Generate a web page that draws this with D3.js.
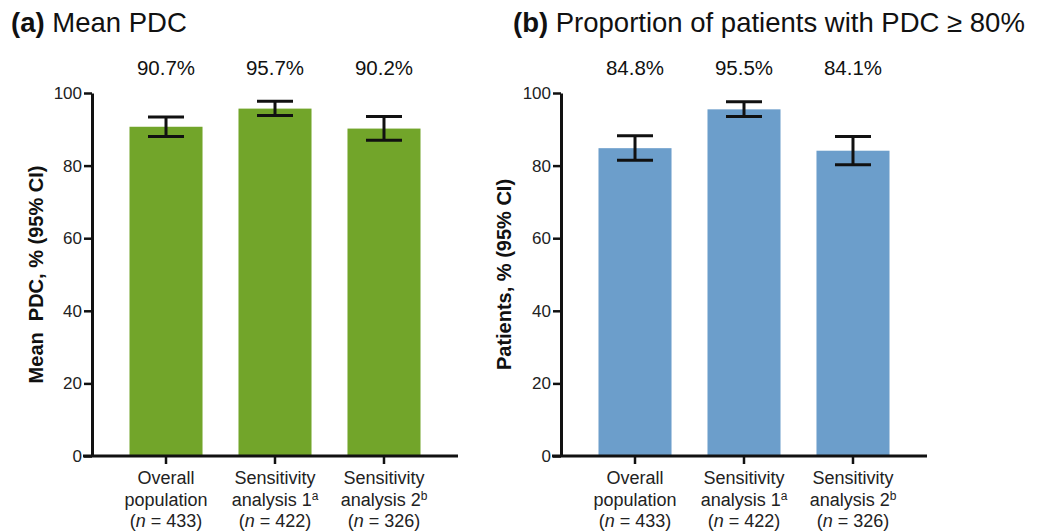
<!DOCTYPE html>
<html>
<head>
<meta charset="utf-8">
<script src="https://cdn.jsdelivr.net/npm/d3@7"></script>
<style>
  html, body { margin: 0; padding: 0; background: #fff; }
  svg { display: block; font-family: "Liberation Sans", Arial, sans-serif; }
</style>
</head>
<body>
<svg id="chart" width="1038" height="531"></svg>
<script>
// Categories shared by both panels
const categories = ["overall", "sens1", "sens2"];
const catLine1 = ["Overall", "Sensitivity", "Sensitivity"];
const catLine2 = ["population", "analysis 1", "analysis 2"];
const catSup = ["", "a", "b"];
const catN = ["433", "422", "326"];

// Panel (a): mean PDC with 95% CI
const meanPdc = [90.7, 95.7, 90.2];
const meanPdcLow = [88.0, 93.8, 87.0];
const meanPdcHigh = [93.4, 97.7, 93.5];

// Panel (b): proportion of patients with PDC >= 80% with 95% CI
const propPdc80 = [84.8, 95.5, 84.1];
const propPdc80Low = [81.5, 93.5, 80.2];
const propPdc80High = [88.2, 97.6, 88.0];

const yTicks = [0, 20, 40, 60, 80, 100];

const svg = d3.select("#chart");
const ink = "#111";

function drawPanel(opts) {
  const { x0, x1, yTop, yBottom, values, low, high, color, letter, title, yTitle, yTitleX } = opts;

  const x = d3.scaleBand().domain(categories).range([x0, x1])
    .paddingInner(0.33).paddingOuter(0.344);
  const y = d3.scaleLinear().domain([0, 100]).range([yBottom, yTop]);

  const g = svg.append("g");

  // Panel title
  const t = g.append("text").attr("x", opts.titleX).attr("y", 32)
    .attr("font-size", 27.5).attr("fill", ink);
  t.append("tspan").attr("font-weight", "bold").text(letter + " ");
  t.append("tspan").text(title);

  // Bars
  g.selectAll("rect.bar").data(values).join("rect")
    .attr("class", "bar")
    .attr("x", (d, i) => x(categories[i]))
    .attr("width", x.bandwidth())
    .attr("y", d => y(d))
    .attr("height", d => y(0) - y(d))
    .attr("fill", color);

  // Error bars (95% CI)
  const capHalf = 18;
  const eb = g.selectAll("g.err").data(values).join("g").attr("class", "err")
    .attr("stroke", ink).attr("stroke-width", 3);
  eb.append("line")
    .attr("x1", (d, i) => x(categories[i]) + x.bandwidth() / 2)
    .attr("x2", (d, i) => x(categories[i]) + x.bandwidth() / 2)
    .attr("y1", (d, i) => y(low[i]))
    .attr("y2", (d, i) => y(high[i]));
  eb.append("line")
    .attr("x1", (d, i) => x(categories[i]) + x.bandwidth() / 2 - capHalf)
    .attr("x2", (d, i) => x(categories[i]) + x.bandwidth() / 2 + capHalf)
    .attr("y1", (d, i) => y(high[i]))
    .attr("y2", (d, i) => y(high[i]));
  eb.append("line")
    .attr("x1", (d, i) => x(categories[i]) + x.bandwidth() / 2 - capHalf)
    .attr("x2", (d, i) => x(categories[i]) + x.bandwidth() / 2 + capHalf)
    .attr("y1", (d, i) => y(low[i]))
    .attr("y2", (d, i) => y(low[i]));

  // Value labels above the plot
  g.selectAll("text.val").data(values).join("text")
    .attr("class", "val")
    .attr("x", (d, i) => x(categories[i]) + x.bandwidth() / 2)
    .attr("y", 75)
    .attr("text-anchor", "middle")
    .attr("font-size", 20.5)
    .attr("fill", ink)
    .text(d => d.toFixed(1) + "%");

  // Y axis
  const yAxis = g.append("g").attr("transform", `translate(${x0},0)`)
    .call(d3.axisLeft(y).tickValues(yTicks).tickSize(8).tickPadding(2).tickSizeOuter(0));
  yAxis.select(".domain").attr("stroke", ink).attr("stroke-width", 3);
  yAxis.selectAll(".tick line").attr("stroke", ink).attr("stroke-width", 2.5);
  yAxis.selectAll(".tick text").attr("font-size", 17).attr("fill", "#222")
    .attr("font-family", "Liberation Sans, Arial, sans-serif");

  // X axis
  const xAxis = g.append("g").attr("transform", `translate(0,${yBottom})`)
    .call(d3.axisBottom(x).tickSize(8).tickSizeOuter(0).tickFormat(""));
  xAxis.select(".domain").attr("stroke", ink).attr("stroke-width", 3)
    .attr("d", `M${x0 - 9},0H${x1}`);
  xAxis.selectAll(".tick line").attr("stroke", ink).attr("stroke-width", 2.5);

  // Category labels (three lines)
  const cl = g.selectAll("text.cat").data(categories).join("text")
    .attr("class", "cat")
    .attr("text-anchor", "middle")
    .attr("font-size", 18)
    .attr("fill", "#222")
    .attr("transform", d => `translate(${x(d) + x.bandwidth() / 2},0)`);
  cl.append("tspan").attr("x", 0).attr("y", 484).text((d, i) => catLine1[i]);
  const l2 = cl.append("tspan").attr("x", 0).attr("y", 506);
  l2.append("tspan").text((d, i) => catLine2[i]);
  l2.append("tspan").attr("dy", -6).attr("font-size", 12).text((d, i) => catSup[i]);
  const l3 = cl.append("tspan").attr("x", 0).attr("y", 527);
  l3.append("tspan").text("(");
  l3.append("tspan").attr("font-style", "italic").text("n");
  l3.append("tspan").text((d, i) => " = " + catN[i] + ")");

  // Y axis title
  g.append("text")
    .attr("transform", `translate(${yTitleX},${(yTop + yBottom) / 2}) rotate(-90)`)
    .attr("text-anchor", "middle")
    .attr("font-size", 20)
    .attr("font-weight", "bold")
    .attr("fill", ink)
    .attr("xml:space", "preserve")
    .text(yTitle);
}

drawPanel({
  x0: 92, x1: 458, yTop: 93, yBottom: 456,
  values: meanPdc, low: meanPdcLow, high: meanPdcHigh,
  color: "#72a52a", letter: "(a)", title: "Mean PDC", titleX: 11,
  yTitle: "Mean  PDC, % (95% CI)", yTitleX: 43
});

drawPanel({
  x0: 561, x1: 927, yTop: 93, yBottom: 456,
  values: propPdc80, low: propPdc80Low, high: propPdc80High,
  color: "#6c9ecb", letter: "(b)", title: "Proportion of patients with PDC ≥ 80%", titleX: 513,
  yTitle: "Patients, % (95% CI)", yTitleX: 511
});
</script>
</body>
</html>
